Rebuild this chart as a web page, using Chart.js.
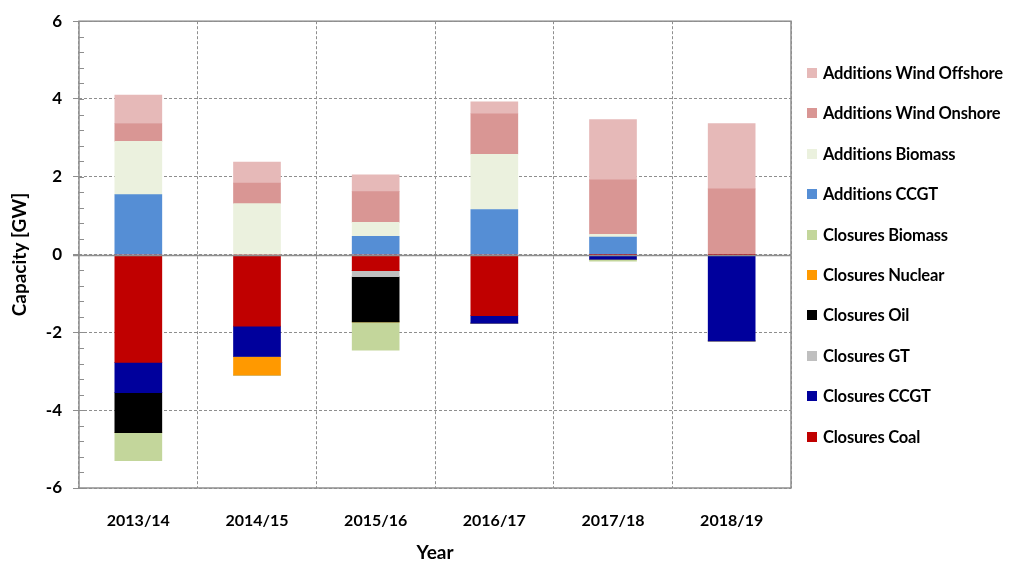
<!DOCTYPE html>
<html>
<head>
<meta charset="utf-8">
<script src="https://cdn.jsdelivr.net/npm/chart.js@4.4.1/dist/chart.umd.min.js"></script>
<style>
  body { margin: 0; background: #fff; font-family: Lato, "Liberation Sans", sans-serif; }
  #wrap { position: relative; width: 1016px; height: 565px; }
  #legend { position: absolute; left: 807px; top: 0; }
  .item { position: absolute; left: 0; height: 40px; display: flex; align-items: center; white-space: nowrap;
          font-weight: bold; font-size: 16.5px; color: #000; font-variant-ligatures: none; letter-spacing: -0.2px; }
  .box { width: 10px; height: 10px; margin-right: 6px; }
</style>
</head>
<body>
<div id="wrap">
  <canvas id="chart" width="1016" height="565"></canvas>
  <div id="legend"></div>
</div>
<script>
const years = ["2013/14", "2014/15", "2015/16", "2016/17", "2017/18", "2018/19"];

// closures (GW, negative)
const closuresCoal    = [-2.77, -1.84, -0.41, -1.57, 0, 0];
const closuresCCGT    = [-0.78, -0.78, 0, -0.19, -0.12, -2.22];
const closuresGT      = [0, 0, -0.16, 0, 0, 0];
const closuresOil     = [-1.03, 0, -1.16, 0, 0, 0];
const closuresNuclear = [0, -0.48, 0, 0, 0, 0];
const closuresBiomass = [-0.72, 0, -0.73, 0, -0.05, 0];

// additions (GW)
const additionsCCGT     = [1.54, 0, 0.47, 1.16, 0.45, 0];
const additionsBiomass  = [1.37, 1.31, 0.36, 1.42, 0.07, 0];
const additionsOnshore  = [0.46, 0.53, 0.79, 1.04, 1.40, 1.69];
const additionsOffshore = [0.73, 0.54, 0.43, 0.31, 1.55, 1.68];

const yTicks = [-6, -4, -2, 0, 2, 4, 6];

const gridColor = "#8e8e8e";

const datasets = [
  { label: "Closures Coal", data: closuresCoal, backgroundColor: "#C00000" },
  { label: "Closures CCGT", data: closuresCCGT, backgroundColor: "#00009C" },
  { label: "Closures GT", data: closuresGT, backgroundColor: "#BFBFBF" },
  { label: "Closures Oil", data: closuresOil, backgroundColor: "#000000" },
  { label: "Closures Nuclear", data: closuresNuclear, backgroundColor: "#FF9900" },
  { label: "Closures Biomass", data: closuresBiomass, backgroundColor: "#C3D69B" },
  { label: "Additions CCGT", data: additionsCCGT, backgroundColor: "#558ED5" },
  { label: "Additions Biomass", data: additionsBiomass, backgroundColor: "#EBF1DE" },
  { label: "Additions Wind Onshore", data: additionsOnshore, backgroundColor: "#D99694" },
  { label: "Additions Wind Offshore", data: additionsOffshore, backgroundColor: "#E6B9B8" }
];
datasets.forEach(d => { d.barThickness = 47; d.borderWidth = 0; });

// borders, zero line and minor ticks
const framePlugin = {
  id: "frame",
  afterDatasetsDraw(chart) {
    const { ctx, chartArea: a, scales } = chart;
    const y = scales.y;
    ctx.save();
    ctx.strokeStyle = gridColor;
    ctx.lineWidth = 1.5;
    ctx.setLineDash([]);
    const y0 = Math.round(y.getPixelForValue(0)) + 0.5;
    ctx.beginPath();
    ctx.moveTo(a.left - 6, y0);
    ctx.lineTo(a.right, y0);
    ctx.stroke();
    ctx.strokeRect(a.left, a.top, a.right - a.left, a.bottom - a.top);
    ctx.lineWidth = 1;
    ctx.beginPath();
    for (let v = -6; v <= 6.001; v += 0.4) {
      const p = Math.round(y.getPixelForValue(v)) + 0.5;
      ctx.moveTo(a.left, p);
      ctx.lineTo(a.left + 5, p);
    }
    ctx.stroke();
    ctx.restore();
  }
};

const ctx = document.getElementById("chart").getContext("2d");
const chart = new Chart(ctx, {
  type: "bar",
  data: { labels: years, datasets: datasets },
  options: {
    responsive: false,
    animation: false,
    layout: { padding: { top: 18, right: 225, left: 0, bottom: 0 } },
    plugins: {
      legend: { display: false },
      tooltip: { enabled: false }
    },
    scales: {
      x: {
        stacked: true,
        grid: { display: true, offset: true, drawTicks: false, color: gridColor, lineWidth: 1 },
        border: { display: false, dash: [3, 2] },
        ticks: { color: "#000", padding: 23, font: { family: "Lato", weight: "bold", size: 16 } },
        title: { display: true, text: "Year", color: "#000", padding: { top: 0, bottom: 1 },
                 font: { family: "Lato", weight: "bold", size: 19 } },
        afterFit(scale) { scale.height = 77; }
      },
      y: {
        stacked: true,
        min: -6,
        max: 6,
        afterBuildTicks(scale) { scale.ticks = yTicks.map(v => ({ value: v })); },
        grid: { color: gridColor, lineWidth: 1, drawTicks: true, tickLength: 6, tickColor: gridColor, tickBorderDash: [] },
        border: { display: false, dash: [3, 2] },
        ticks: { color: "#000", padding: 11, font: { family: "Lato", weight: "bold", size: 17 } },
        title: { display: true, text: "Capacity [GW]", color: "#000", padding: { top: 8, bottom: 0 },
                 font: { family: "Lato", weight: "bold", size: 19 } },
        afterFit(scale) { scale.width = 79; }
      }
    }
  },
  plugins: [framePlugin]
});

// legend, in the same order as the reference (reverse of the stacking order)
const legend = document.getElementById("legend");
datasets.slice().reverse().forEach((d, i) => {
  const item = document.createElement("div");
  item.className = "item";
  item.style.top = (73 - 20 + i * 40.4) + "px";
  const box = document.createElement("span");
  box.className = "box";
  box.style.background = d.backgroundColor;
  const txt = document.createElement("span");
  txt.textContent = d.label;
  item.appendChild(box);
  item.appendChild(txt);
  legend.appendChild(item);
});
</script>
</body>
</html>
